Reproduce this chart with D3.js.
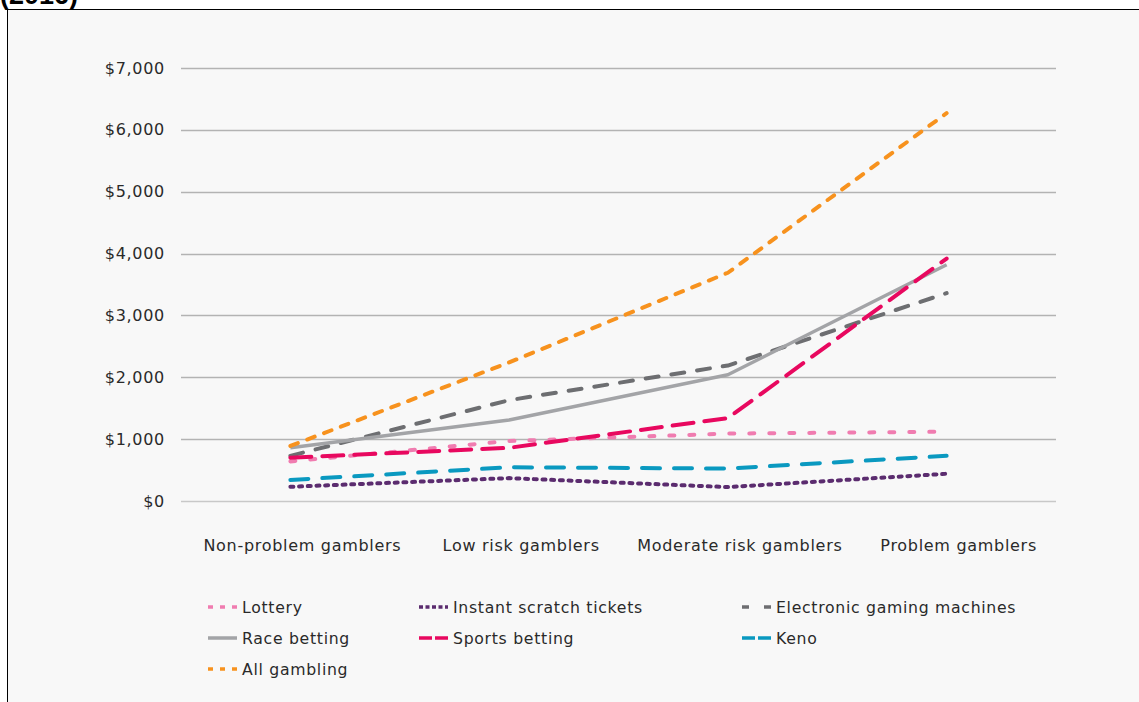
<!DOCTYPE html>
<html>
<head>
<meta charset="utf-8">
<script src="https://cdn.jsdelivr.net/npm/d3@7"></script>
<style>
  html, body { margin: 0; padding: 0; background: #ffffff; }
  svg { display: block; }
  text { font-family: "DejaVu Sans", "Open Sans", sans-serif; fill: #2a2a2a; letter-spacing: 0.7px; }
</style>
</head>
<body>
<svg id="chart" width="1139" height="702"></svg>
<script>
// Average annual spend by gambler risk category
const categories = ["Non-problem gamblers", "Low risk gamblers", "Moderate risk gamblers", "Problem gamblers"];
const lottery        = [640, 970, 1090, 1120];
const instantScratch = [230, 370, 225, 440];
const egm            = [730, 1630, 2190, 3360];
const raceBetting    = [860, 1310, 2040, 3820];
const sportsBetting  = [700, 860, 1340, 3920];
const keno           = [340, 545, 525, 730];
const allGambling    = [890, 2240, 3690, 6270];
const yTicks = [0, 1000, 2000, 3000, 4000, 5000, 6000, 7000];

const series = [
  { name: "Lottery", values: lottery, color: "#f07cb0", width: 4, dash: "5,15", cap: "round", legendDash: "5,7" },
  { name: "Instant scratch tickets", values: instantScratch, color: "#5b2c6f", width: 4, dash: "3,5.7", cap: "round", legendDash: "4,2.5" },
  { name: "Electronic gaming machines", values: egm, color: "#6d6e71", width: 4, dash: "13,13", cap: "round", legendDash: "7,15" },
  { name: "Race betting", values: raceBetting, color: "#a3a4a7", width: 3.5, dash: null, cap: "butt", legendDash: null },
  { name: "Sports betting", values: sportsBetting, color: "#e8085f", width: 4, dash: "21,11", cap: "round", legendDash: "13,3" },
  { name: "Keno", values: keno, color: "#0a99c0", width: 4, dash: "18,14", cap: "round", legendDash: "13,3" },
  { name: "All gambling", values: allGambling, color: "#f7921e", width: 4, dash: "8,10", cap: "round", legendDash: "5,7" }
];

const svg = d3.select("#chart");

// Heading (mostly above the frame) and panel frame
svg.append("text")
  .attr("x", 0).attr("y", 4)
  .style("font-family", "'Liberation Sans', Arial, sans-serif")
  .style("font-weight", "bold")
  .style("font-size", "27px")
  .style("letter-spacing", "0px")
  .style("fill", "#000")
  .text("(2016)");

svg.append("rect")
  .attr("x", 7.5).attr("y", 9.5)
  .attr("width", 1200).attr("height", 800)
  .attr("fill", "#f8f8f8")
  .attr("stroke", "#000").attr("stroke-width", 1);

const x = d3.scaleBand().domain(categories).range([181, 1056]).padding(0);
const y = d3.scaleLinear().domain([0, 7000]).range([501, 68]);

// Gridlines
svg.append("g")
  .selectAll("line")
  .data(yTicks)
  .join("line")
  .attr("x1", 181).attr("x2", 1056)
  .attr("y1", d => Math.round(y(d)) + 0.5)
  .attr("y2", d => Math.round(y(d)) + 0.5)
  .attr("stroke", d => d === 0 ? "#c8c8c8" : "#b3b3b3")
  .attr("stroke-width", 1.5);

// Y axis labels
const fmt = d3.format("$,");
svg.append("g")
  .selectAll("text")
  .data(yTicks)
  .join("text")
  .attr("x", 165)
  .attr("y", d => y(d))
  .attr("dy", "0.35em")
  .attr("text-anchor", "end")
  .style("font-size", "16px")
  .text(d => fmt(d));

// Category labels
svg.append("g")
  .selectAll("text")
  .data(categories)
  .join("text")
  .attr("x", d => x(d) + x.bandwidth() / 2 + 12)
  .attr("y", 545)
  .attr("dy", "0.35em")
  .attr("text-anchor", "middle")
  .style("font-size", "16px")
  .text(d => d);

// Series lines
const line = d3.line()
  .x((d, i) => x(categories[i]) + x.bandwidth() / 2)
  .y(d => y(d));

svg.append("g")
  .selectAll("path")
  .data(series)
  .join("path")
  .attr("d", s => line(s.values))
  .attr("fill", "none")
  .attr("stroke", s => s.color)
  .attr("stroke-width", s => s.width)
  .attr("stroke-dasharray", s => s.dash)
  .attr("stroke-linecap", s => s.cap)
  .attr("stroke-linejoin", "round");

// Legend
const legendCols = [208, 419, 742];
const legendRows = [607, 638, 669];
const lg = svg.append("g")
  .selectAll("g")
  .data(series)
  .join("g")
  .attr("transform", (s, i) => `translate(${legendCols[i % 3]},${legendRows[Math.floor(i / 3)]})`);

lg.append("line")
  .attr("x1", 0).attr("x2", 29)
  .attr("y1", 0).attr("y2", 0)
  .attr("stroke", s => s.color)
  .attr("stroke-width", 3.5)
  .attr("stroke-dasharray", s => s.legendDash);

lg.append("text")
  .attr("x", 34)
  .attr("y", 0)
  .attr("dy", "0.35em")
  .style("font-size", "15.7px")
  .text(s => s.name);
</script>
</body>
</html>
